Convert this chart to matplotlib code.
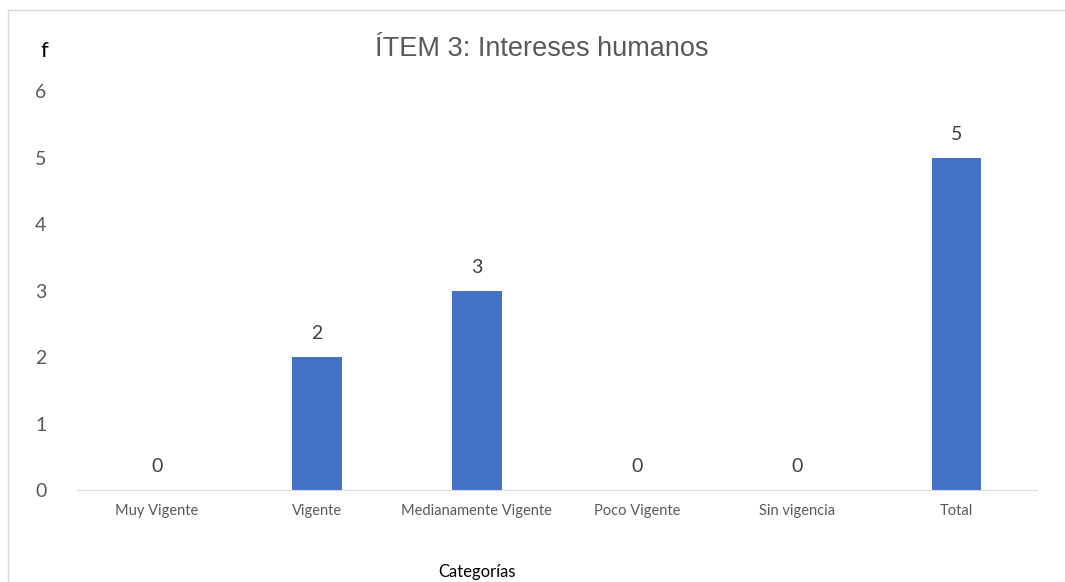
import matplotlib
matplotlib.use("Agg")
from matplotlib import pyplot as plt
from matplotlib.patches import Rectangle

categorias = ["Muy Vigente", "Vigente", "Medianamente Vigente", "Poco Vigente", "Sin vigencia", "Total"]
frecuencia = [0, 2, 3, 0, 0, 5]
yticks = [0, 1, 2, 3, 4, 5, 6]

fig = plt.figure(figsize=(10.65, 5.82), dpi=100)
ax = fig.add_axes([0.0723, 0.158, 0.901, 0.6856])

x = list(range(len(categorias)))
ax.bar(x, frecuencia, width=0.31, color="#4472C4", zorder=2)

# etiquetas encima de las barras
for i in x:
    ax.text(i, frecuencia[i] + 0.22, str(frecuencia[i]), ha="center", va="bottom",
            fontsize=14, color="#404040", family="Lato")

ax.set_xlim(-0.5, len(categorias) - 0.5)
ax.set_ylim(0, 6)
ax.set_yticks(yticks)
ax.set_yticklabels([str(v) for v in yticks], fontsize=14, color="#595959", family="Lato")
ax.set_xticks(x)
ax.set_xticklabels(categorias, fontsize=10.5, color="#595959", family="Lato")
ax.tick_params(axis="both", length=0)
ax.tick_params(axis="x", pad=10)
ax.tick_params(axis="y", pad=22)

for s in ["top", "right", "left"]:
    ax.spines[s].set_visible(False)
ax.spines["bottom"].set_color("#d9d9d9")

fig.text(0.509, 0.915, "ÍTEM 3: Intereses humanos", ha="center", va="center",
         fontsize=19.5, color="#595959", family="Liberation Sans")
fig.text(0.042, 0.912, "f", ha="center", va="center", fontsize=16, color="black", family="Lato")
fig.text(0.448, 0.017, "Categorías", ha="center", va="center", fontsize=12, color="black", family="Lato")

# marco del gráfico
fig.patches.append(Rectangle((8 / 1065, -0.01), 1.02, 1 - 10 / 582 + 0.01, transform=fig.transFigure,
                             fill=False, edgecolor="#d9d9d9", linewidth=1))

plt.savefig("out.png", dpi=100)
